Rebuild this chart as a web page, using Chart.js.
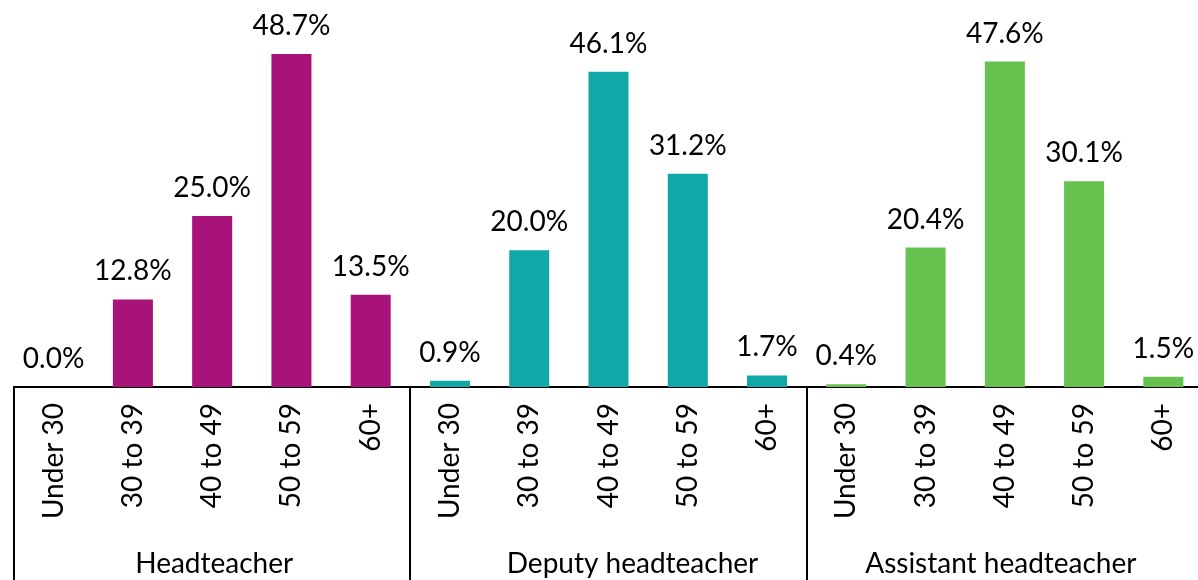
<!DOCTYPE html>
<html>
<head>
<meta charset="utf-8">
<script src="https://cdn.jsdelivr.net/npm/chart.js@4/dist/chart.umd.min.js"></script>
<style>
  html, body { margin: 0; padding: 0; background: #fff; overflow: hidden; }
  #ageChart { display: block; }
</style>
</head>
<body>
<canvas id="ageChart" width="1206" height="580"></canvas>
<script>
// Age bands within each role
const ageBands = ['Under 30', '30 to 39', '40 to 49', '50 to 59', '60+'];
const roles = ['Headteacher', 'Deputy headteacher', 'Assistant headteacher'];

// Percentages per role
const headteacher = [0.0, 12.8, 25.0, 48.7, 13.5];
const deputyHeadteacher = [0.9, 20.0, 46.1, 31.2, 1.7];
const assistantHeadteacher = [0.4, 20.4, 47.6, 30.1, 1.5];

// Role colours
const colors = {
  headteacher: '#A8137A',
  deputy: '#13A8A8',
  assistant: '#66C14F'
};

const FONT = "Lato, 'Noto Sans', sans-serif";

const labels = [...ageBands, ...ageBands, ...ageBands];
const values = [...headteacher, ...deputyHeadteacher, ...assistantHeadteacher];
const barColors = [
  ...ageBands.map(() => colors.headteacher),
  ...ageBands.map(() => colors.deputy),
  ...ageBands.map(() => colors.assistant)
];

/**
 * Value labels above each bar
 */
const valueLabels = {
  id: 'valueLabels',
  afterDatasetsDraw(chart) {
    const { ctx } = chart;
    const meta = chart.getDatasetMeta(0);
    ctx.save();
    ctx.font = `28px ${FONT}`;
    ctx.fillStyle = '#000';
    ctx.textAlign = 'center';
    ctx.textBaseline = 'alphabetic';
    meta.data.forEach((bar, i) => {
      ctx.fillText(values[i].toFixed(1) + '%', bar.x, bar.y - 19);
    });
    ctx.restore();
  }
};

/**
 * Group separators and role names under the axis
 */
const roleGroups = {
  id: 'roleGroups',
  afterDraw(chart) {
    const { ctx } = chart;
    const xScale = chart.scales.x;
    const top = chart.chartArea.bottom;
    const bottom = chart.height;
    const n = ageBands.length;
    // Excel nudged the middle title a little to the right
    const nudge = [2, 24, -4];

    ctx.save();
    ctx.strokeStyle = '#000';
    ctx.lineWidth = 2;
    for (let g = 0; g <= roles.length; g++) {
      const x = Math.round(xScale.getPixelForValue(g * n - 0.5));
      ctx.beginPath();
      ctx.moveTo(x, top);
      ctx.lineTo(x, bottom);
      ctx.stroke();
    }

    ctx.font = `28px ${FONT}`;
    ctx.fillStyle = '#000';
    ctx.textAlign = 'center';
    ctx.textBaseline = 'alphabetic';
    roles.forEach((role, g) => {
      const x0 = xScale.getPixelForValue(g * n - 0.5);
      const x1 = xScale.getPixelForValue((g + 1) * n - 0.5);
      ctx.fillText(role, (x0 + x1) / 2 + nudge[g], 573);
    });
    ctx.restore();
  }
};

new Chart(document.getElementById('ageChart'), {
  type: 'bar',
  data: {
    labels,
    datasets: [{
      data: values,
      backgroundColor: barColors,
      borderWidth: 0,
      categoryPercentage: 1,
      barPercentage: 0.505
    }]
  },
  options: {
    responsive: false,
    animation: false,
    devicePixelRatio: 1,
    layout: {
      padding: { left: 14, right: 3, top: 0, bottom: 0 }
    },
    plugins: {
      legend: { display: false },
      tooltip: { enabled: false }
    },
    scales: {
      x: {
        grid: { display: false, drawTicks: false },
        border: { display: true, color: '#000', width: 2 },
        ticks: {
          autoSkip: false,
          minRotation: 90,
          maxRotation: 90,
          padding: 16,
          color: '#000',
          font: { family: FONT, size: 28 }
        },
        afterFit(scale) {
          scale.height = 193;
          scale.paddingLeft = 0;
          scale.paddingRight = 0;
        }
      },
      y: {
        display: false,
        min: 0,
        max: 56.6
      }
    }
  },
  plugins: [valueLabels, roleGroups]
});
</script>
</body>
</html>
